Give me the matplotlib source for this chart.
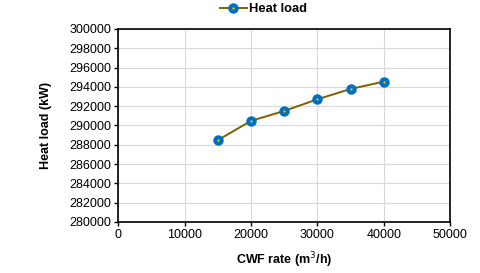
import matplotlib
matplotlib.use("Agg")
from matplotlib import pyplot as plt

# values
cwf_rate = [15000, 20000, 25000, 30000, 35000, 40000]
heat_load = [288470, 290470, 291500, 292710, 293780, 294540]

plt.rcParams['font.family'] = ['Liberation Sans', 'DejaVu Sans']

fig = plt.figure(figsize=(4.8, 2.73), dpi=100)
ax = fig.add_axes([0.246, 0.187, 0.692, 0.707])

ax.plot(cwf_rate, heat_load, color='#7F6000', lw=1.4, zorder=3,
        marker='o', ms=4.6, mfc='#FFC000', mec='#0070C0', mew=2.9,
        label='Heat load')

ax.set_xlim(0, 50000)
ax.set_ylim(280000, 300000)
ax.set_xticks(range(0, 50001, 10000))
ax.set_yticks(range(280000, 300001, 2000))
ax.grid(True, color='#D9D9D9', lw=0.8)
ax.set_axisbelow(True)
for s in ax.spines.values():
    s.set_color('black')
    s.set_linewidth(1.2)
ax.tick_params(labelsize=9, length=3, width=1, color='black', pad=2)

ax.set_xlabel('CWF rate (m$^3$/h)', fontsize=9, fontweight='bold', labelpad=7)
ax.set_ylabel('Heat load (kW)', fontsize=9, fontweight='bold', labelpad=12)

fig.legend(loc='upper center', bbox_to_anchor=(0.548, 1.03), frameon=False,
           prop={'size': 9.3, 'weight': 'bold'}, handlelength=2.1, handletextpad=0.15)

fig.savefig('out.png', dpi=100)
